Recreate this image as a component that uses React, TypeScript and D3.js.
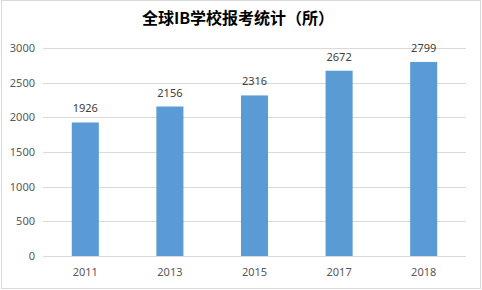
import React from "react";
import * as d3 from "d3";

const categories = ["2011", "2013", "2015", "2017", "2018"];
const values = [1926, 2156, 2316, 2672, 2799];
const yTicks = [0, 500, 1000, 1500, 2000, 2500, 3000];
const title = "全球IB学校报考统计（所）";

const W = 482;
const H = 290;
const margin = { left: 43, right: 16, top: 48, bottom: 34 };

export default function App() {
  const x = d3
    .scaleBand<string>()
    .domain(categories)
    .range([margin.left, W - margin.right])
    .paddingInner(0.68)
    .paddingOuter(0.34);
  const y = d3.scaleLinear().domain([0, 3000]).range([H - margin.bottom, margin.top]);
  const font = "'Noto Sans', 'Liberation Sans', sans-serif";
  return (
    <svg
      width={W}
      height={H}
      style={{ position: "absolute", left: 0, top: 0, background: "#fff" }}
    >
      <rect x={1.5} y={0.5} width={479} height={288} fill="#fff" stroke="#D9D9D9" />
      <text
        x={238}
        y={24}
        textAnchor="middle"
        fontFamily="'Noto Sans CJK SC', sans-serif"
        fontWeight="bold"
        fontSize={16}
        fill="#000"
      >
        {title}
      </text>
      {yTicks.map((t) => (
        <g key={t}>
          <line
            x1={margin.left}
            x2={W - margin.right}
            y1={Math.round(y(t)) + 0.5}
            y2={Math.round(y(t)) + 0.5}
            stroke="#D9D9D9"
          />
          <text
            x={35}
            y={y(t)}
            dy="0.35em"
            textAnchor="end"
            fontFamily={font}
            fontSize={11}
            fill="#595959"
          >
            {t}
          </text>
        </g>
      ))}
      {categories.map((c, i) => (
        <g key={c}>
          <rect
            x={x(c)!}
            y={y(values[i])}
            width={x.bandwidth()}
            height={y(0) - y(values[i])}
            fill="#5B9BD5"
          />
          <text
            x={x(c)! + x.bandwidth() / 2}
            y={y(values[i]) - 10}
            textAnchor="middle"
            fontFamily={font}
            fontSize={11}
            fill="#404040"
          >
            {values[i]}
          </text>
          <text
            x={x(c)! + x.bandwidth() / 2}
            y={y(0) + 20}
            textAnchor="middle"
            fontFamily={font}
            fontSize={11}
            fill="#595959"
          >
            {c}
          </text>
        </g>
      ))}
    </svg>
  );
}
